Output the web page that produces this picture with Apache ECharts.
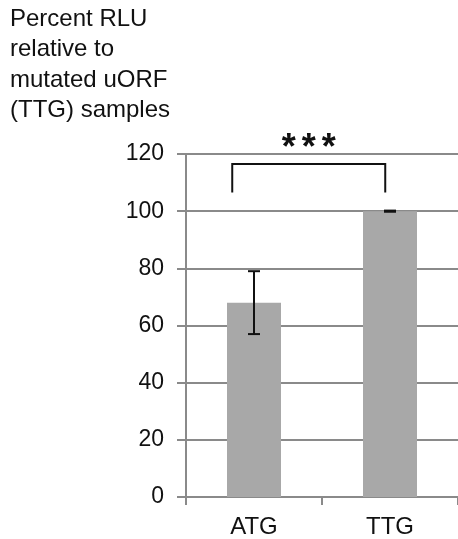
<!DOCTYPE html>
<html><head><meta charset="utf-8">
<script src="https://cdn.jsdelivr.net/npm/echarts@6/dist/echarts.min.js"></script>
<style>html,body{margin:0;padding:0;background:#fff}#c{width:458px;height:539px}</style>
</head><body><div id="c"></div>
<script>
const categories = ['ATG', 'TTG'];
const values = [68, 100];
const errLow = [57, 99.8];
const errHigh = [79, 100.2];
const yTicks = [0, 20, 40, 60, 80, 100, 120];
const bracket = { from: 0, to: 1, low: 106.5, high: 116.5, label: '*', count: 3, labelAt: 125 };
const titleLines = ['Percent RLU', 'relative to', 'mutated uORF', '(TTG) samples'];

const chart = echarts.init(document.getElementById('c'));
const FONT = 'Liberation Sans, Arial, sans-serif';
const TXT = '#111';
const GRID = '#8a8a8a';

chart.setOption({
  animation: false,
  title: {
    text: titleLines.join('\n'),
    left: 10, top: 4, padding: 0,
    textStyle: { fontFamily: FONT, fontSize: 24, lineHeight: 30.5, fontWeight: 'normal', color: TXT }
  },
  grid: { left: 186, right: -2, top: 154, bottom: 40 },
  xAxis: {
    type: 'category', data: categories,
    axisLine: { lineStyle: { color: GRID, width: 2 } },
    axisTick: { show: true, length: 8, lineStyle: { color: GRID, width: 2 } },
    axisLabel: { fontFamily: FONT, fontSize: 24, color: TXT, margin: 18 }
  },
  yAxis: {
    type: 'value', min: yTicks[0], max: yTicks[yTicks.length - 1], interval: yTicks[1] - yTicks[0],
    axisLine: { show: true, lineStyle: { color: GRID, width: 2 } },
    axisTick: { show: true, length: 9, lineStyle: { color: GRID, width: 2 } },
    axisLabel: { fontFamily: FONT, fontSize: 23, color: TXT, margin: 22 },
    splitLine: { lineStyle: { color: GRID, width: 2 } }
  },
  series: [
    {
      type: 'bar', data: values, barWidth: 54,
      itemStyle: { color: '#a8a8a8' }
    },
    {
      type: 'custom', z: 10,
      data: categories.map((c, i) => [i, errLow[i], errHigh[i]]),
      renderItem: function (params, api) {
        const lo = api.coord([api.value(0), api.value(1)]);
        const hi = api.coord([api.value(0), api.value(2)]);
        const hw = 6;
        const st = { stroke: '#111', lineWidth: 2 };
        return { type: 'group', children: [
          { type: 'line', shape: { x1: hi[0], y1: hi[1], x2: lo[0], y2: lo[1] }, style: st },
          { type: 'line', shape: { x1: hi[0] - hw, y1: hi[1], x2: hi[0] + hw, y2: hi[1] }, style: st },
          { type: 'line', shape: { x1: lo[0] - hw, y1: lo[1], x2: lo[0] + hw, y2: lo[1] }, style: st }
        ]};
      }
    },
    {
      type: 'custom', z: 10, clip: false,
      data: [[bracket.from, bracket.to, bracket.low, bracket.high, bracket.labelAt]],
      renderItem: function (params, api) {
        const band = api.size([1, 0])[0];
        const a = api.coord([api.value(0), api.value(3)]);
        const b = api.coord([api.value(1), api.value(3)]);
        const aLow = api.coord([api.value(0), api.value(2)]);
        const t = api.coord([api.value(0), api.value(4)]);
        const x1 = a[0] - band * 0.16, x2 = b[0] - band * 0.035;
        const st = { stroke: '#111', lineWidth: 2, fill: null };
        const children = [
          { type: 'polyline', shape: { points: [[x1, aLow[1]], [x1, a[1]], [x2, a[1]], [x2, aLow[1]]] }, style: st }
        ];
        const cx = (x1 + x2) / 2, pitch = 20;
        for (let k = 0; k < bracket.count; k++) {
          children.push({ type: 'text', style: { text: bracket.label, x: cx + (k - (bracket.count - 1) / 2) * pitch, y: t[1] + 9,
            align: 'center', verticalAlign: 'middle', font: 'bold 36px ' + FONT, fill: '#111' } });
        }
        return { type: 'group', children: children };
      }
    }
  ]
});
</script>
</body></html>
